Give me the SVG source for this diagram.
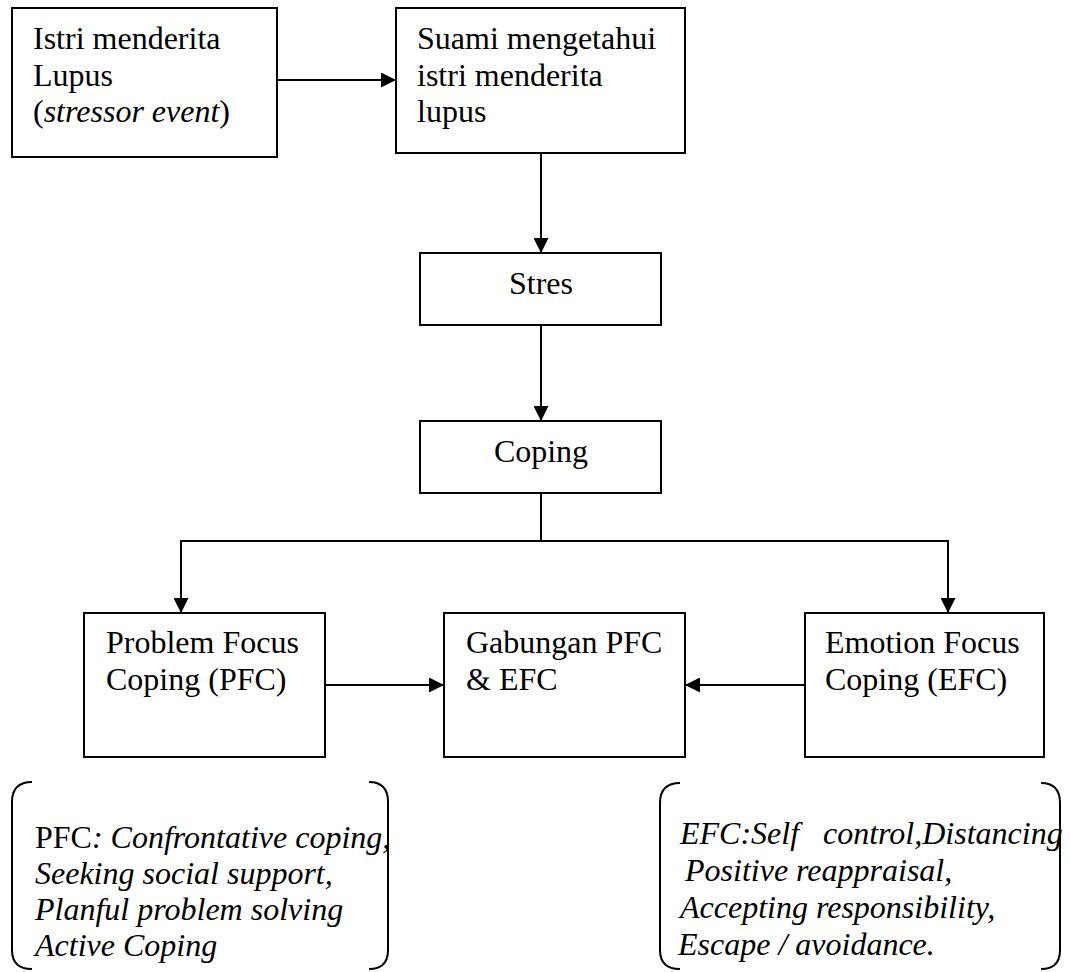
<svg xmlns="http://www.w3.org/2000/svg" width="1070" height="972" viewBox="0 0 1070 972">
<defs>
<style>
.box{fill:#fff;stroke:#000;stroke-width:2}
.t{font-family:"Liberation Serif","Times New Roman",serif;font-size:32px;fill:#000}
.i{font-style:italic}
.c{fill:none;stroke:#000;stroke-width:2}
.br{fill:none;stroke:#000;stroke-width:2}
</style>
<marker id="ah" markerUnits="userSpaceOnUse" markerWidth="15" markerHeight="15" refX="15" refY="7.5" orient="auto">
<path d="M0,0 L15,7.5 L0,15 z" fill="#000"/>
</marker>
</defs>
<rect width="1070" height="972" fill="#fff"/>
<g id="connectors">
<line class="c" x1="277" y1="80" x2="396" y2="80" marker-end="url(#ah)"/>
<line class="c" x1="541" y1="153" x2="541" y2="253" marker-end="url(#ah)"/>
<line class="c" x1="541" y1="325" x2="541" y2="421" marker-end="url(#ah)"/>
<polyline class="c" points="541,493 541,541"/>
<polyline class="c" points="541,541 181,541 181,613" marker-end="url(#ah)"/>
<polyline class="c" points="541,541 948,541 948,613" marker-end="url(#ah)"/>
<line class="c" x1="325" y1="685" x2="444" y2="685" marker-end="url(#ah)"/>
<line class="c" x1="805" y1="685" x2="685" y2="685" marker-end="url(#ah)"/>
</g>
<g id="n1">
<rect class="box" x="12" y="8" width="265" height="149"/>
<text class="t" x="33" y="49">Istri menderita</text>
<text class="t" x="33" y="86">Lupus</text>
<text class="t" x="33" y="122">(<tspan class="i">stressor event</tspan>)</text>
</g>
<g id="n2">
<rect class="box" x="396" y="8" width="289" height="145"/>
<text class="t" x="417" y="49">Suami mengetahui</text>
<text class="t" x="417" y="86">istri menderita</text>
<text class="t" x="417" y="122">lupus</text>
</g>
<g id="n3">
<rect class="box" x="420" y="253" width="241" height="72"/>
<text class="t" x="541" y="294" text-anchor="middle">Stres</text>
</g>
<g id="n4">
<rect class="box" x="420" y="421" width="241" height="72"/>
<text class="t" x="541" y="462" text-anchor="middle">Coping</text>
</g>
<g id="n5">
<rect class="box" x="84" y="613" width="241" height="144"/>
<text class="t" x="106" y="653">Problem Focus</text>
<text class="t" x="106" y="690">Coping (PFC)</text>
</g>
<g id="n6">
<rect class="box" x="444" y="613" width="241" height="144"/>
<text class="t" x="466" y="653">Gabungan PFC</text>
<text class="t" x="466" y="690">&amp; EFC</text>
</g>
<g id="n7">
<rect class="box" x="805" y="613" width="239" height="144"/>
<text class="t" x="825" y="653">Emotion Focus</text>
<text class="t" x="825" y="690">Coping (EFC)</text>
</g>
<g id="n8">
<path class="br" d="M32,782 Q12,782 12,802 L12,950 Q12,969 32,969"/>
<path class="br" d="M369,782 Q388,782 388,802 L388,950 Q388,969 369,969"/>
<text class="t" x="35" y="848">PFC<tspan class="i">: Confrontative coping,</tspan></text>
<text class="t i" x="35" y="884">Seeking social support,</text>
<text class="t i" x="35" y="920">Planful problem solving</text>
<text class="t i" x="35" y="956">Active Coping</text>
</g>
<g id="n9">
<path class="br" d="M680,783 Q660,783 660,803 L660,950 Q660,969 680,969"/>
<path class="br" d="M1041,783 Q1060,783 1060,803 L1060,950 Q1060,969 1041,969"/>
<text class="t i" x="680" y="844">EFC:Self<tspan x="823">control,Distancing</tspan></text>
<text class="t i" x="685" y="881">Positive reappraisal,</text>
<text class="t i" x="680" y="918">Accepting responsibility,</text>
<text class="t i" x="678" y="955">Escape / avoidance.</text>
</g>
</svg>
